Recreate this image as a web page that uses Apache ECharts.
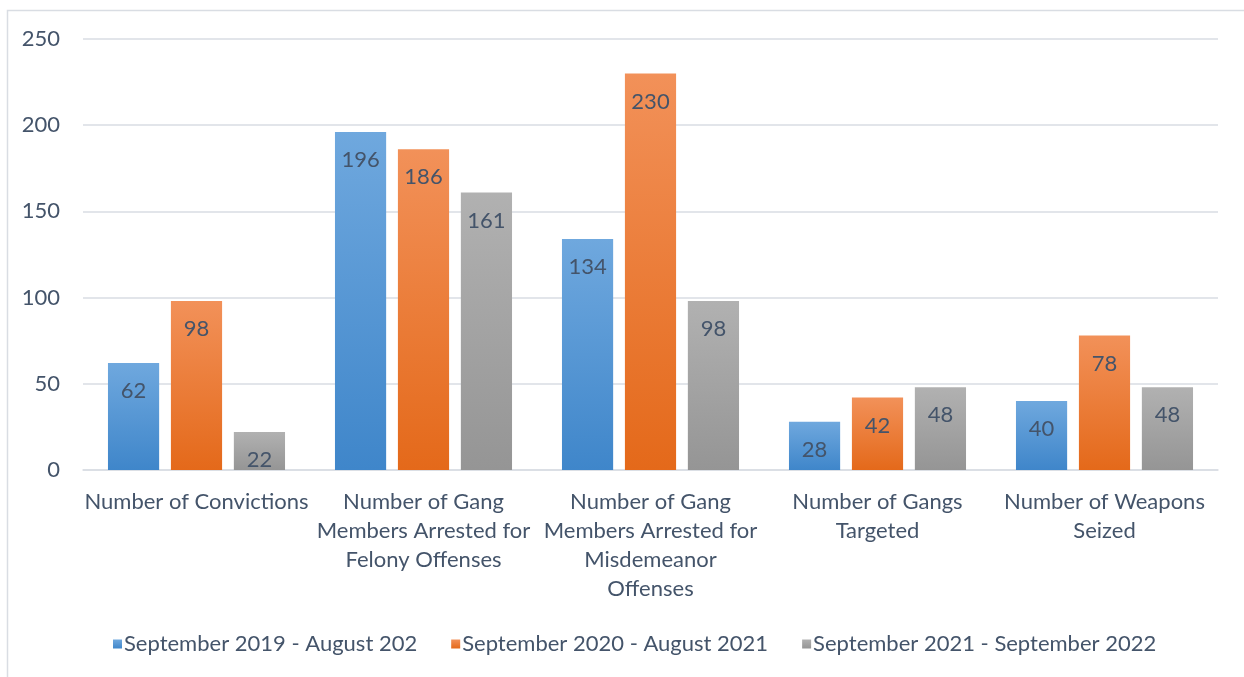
<!DOCTYPE html>
<html>
<head>
<meta charset="utf-8">
<script src="https://cdn.jsdelivr.net/npm/echarts@6/dist/echarts.min.js"></script>
<style>
  html, body { margin: 0; padding: 0; background: #fff; }
  #main { width: 1244px; height: 677px; }
</style>
</head>
<body>
<div id="main"></div>
<script>
var categories = [
    'Number of Convictions',
    'Number of Gang\nMembers Arrested for\nFelony Offenses',
    'Number of Gang\nMembers Arrested for\nMisdemeanor\nOffenses',
    'Number of Gangs\nTargeted',
    'Number of Weapons\nSeized'
];
var seriesNames = [
    'September 2019 - August 202',
    'September 2020 - August 2021',
    'September 2021 - September 2022'
];
var period1 = [62, 196, 134, 28, 40];
var period2 = [98, 186, 230, 42, 78];
var period3 = [22, 161, 98, 48, 48];
var yTicks = [0, 50, 100, 150, 200, 250];

var FONT = 'Lato, "Noto Sans", sans-serif';
var TEXT = '#44546a';
var FS = 22;

function grad(top, bottom) {
    return new echarts.graphic.LinearGradient(0, 0, 0, 1, [
        { offset: 0, color: top },
        { offset: 1, color: bottom }
    ]);
}

function barSeries(name, data, top, bottom) {
    return {
        name: name,
        type: 'bar',
        data: data,
        barGap: '23%',
        barCategoryGap: '22%',
        itemStyle: { color: grad(top, bottom) },
        label: {
            show: true,
            position: 'insideTop',
            distance: 17,
            color: TEXT,
            fontSize: FS,
            fontFamily: FONT
        }
    };
}

var myChart = echarts.init(document.getElementById('main'));

var option = {
    backgroundColor: '#fff',
    animation: false,
    graphic: [{
        type: 'rect',
        shape: { x: 7.5, y: 10.5, width: 1300, height: 700 },
        style: { fill: 'none', stroke: '#d9dde3', lineWidth: 1.5 },
        silent: true
    }],
    grid: { left: 83, right: 26, top: 39, bottom: 207, containLabel: false },
    legend: {
        top: 628,
        left: 108,
        itemWidth: 9,
        itemHeight: 9,
        itemGap: 34,
        icon: 'rect',
        textStyle: { color: TEXT, fontSize: FS, fontFamily: FONT, padding: [0, 0, 0, -3] },
        data: seriesNames
    },
    xAxis: {
        type: 'category',
        data: categories,
        axisLine: { lineStyle: { color: '#d9dde3', width: 1.5 } },
        axisTick: { show: false },
        axisLabel: {
            interval: 0,
            color: TEXT,
            fontSize: FS,
            fontFamily: FONT,
            lineHeight: 29,
            margin: 17
        }
    },
    yAxis: {
        type: 'value',
        min: yTicks[0],
        max: yTicks[yTicks.length - 1],
        interval: 50,
        axisLine: { show: false },
        axisTick: { show: false },
        splitLine: { lineStyle: { color: '#d9dde3', width: 1.5 } },
        axisLabel: {
            color: TEXT,
            fontSize: FS,
            fontFamily: FONT,
            margin: 23
        }
    },
    series: [
        barSeries(seriesNames[0], period1, '#6fa8de', '#3f86ca'),
        barSeries(seriesNames[1], period2, '#f29159', '#e4691a'),
        barSeries(seriesNames[2], period3, '#b1b1b1', '#959595')
    ]
};

myChart.setOption(option);
</script>
</body>
</html>
